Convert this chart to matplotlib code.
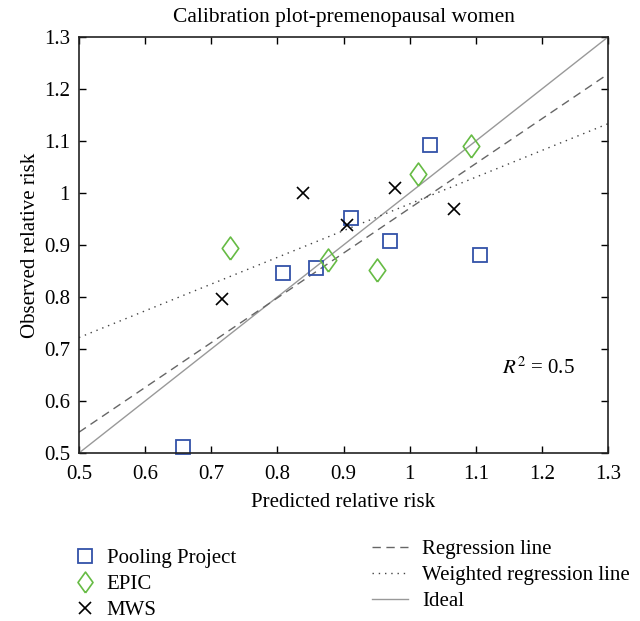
import numpy as np
import matplotlib
matplotlib.use("Agg")
import matplotlib.pyplot as plt
from matplotlib.lines import Line2D

plt.rcParams['font.family'] = ['Liberation Serif', 'DejaVu Serif']
plt.rcParams['mathtext.fontset'] = 'stix'

# Pooling Project (squares)
pooling_x = [0.658, 0.808, 0.858, 0.912, 0.970, 1.031, 1.107]
pooling_y = [0.511, 0.846, 0.855, 0.951, 0.908, 1.093, 0.881]
# EPIC (diamonds)
epic_x = [0.728, 0.877, 0.951, 1.012, 1.093]
epic_y = [0.894, 0.872, 0.851, 1.036, 1.091]
# MWS (crosses)
mws_x = [0.717, 0.839, 0.906, 0.978, 1.067]
mws_y = [0.797, 1.000, 0.939, 1.010, 0.969]

# fitted lines: value at x=0.5 and slope
reg_at_05, reg_slope = 0.540, 0.861
wreg_at_05, wreg_slope = 0.722, 0.514
r2_value = 0.5

ticks = [0.5, 0.6, 0.7, 0.8, 0.9, 1.0, 1.1, 1.2, 1.3]
tick_labels = ['0.5', '0.6', '0.7', '0.8', '0.9', '1', '1.1', '1.2', '1.3']

blue = '#3352a8'
green = '#66bb44'
# tall diamond like the original
diamond = [(0, -1), (0.72, 0), (0, 1), (-0.72, 0), (0, -1)]

fs = 15

fig = plt.figure(figsize=(6.4, 6.21), dpi=100)
ax = fig.add_axes([79 / 640, 1 - 453 / 621, 529 / 640, 416 / 621])

xs = np.array([0.5, 1.3])
ax.plot(xs, xs, color='#999999', lw=1.0)
ax.plot(xs, reg_at_05 + reg_slope * (xs - 0.5), color='#666666', lw=1.0,
        linestyle=(0, (6, 4)))
ax.plot(xs, wreg_at_05 + wreg_slope * (xs - 0.5), color='#444444', lw=1.0,
        linestyle=(0, (1, 3.5)))

ax.plot(pooling_x, pooling_y, 's', ms=9.8, mfc='none', mec=blue, mew=1.3, clip_on=False)
ax.plot(epic_x, epic_y, marker=diamond, ls='none', ms=16.5, mfc='none', mec=green,
        mew=1.2, clip_on=False)
ax.plot(mws_x, mws_y, 'x', ms=8.5, color='black', mew=1.2, clip_on=False)

ax.set_xlim(0.5, 1.3)
ax.set_ylim(0.5, 1.3)
ax.set_xticks(ticks)
ax.set_xticklabels(tick_labels)
ax.set_yticks(ticks)
ax.set_yticklabels(tick_labels)
ax.tick_params(direction='in', top=True, right=True, length=5, width=1.0,
               labelsize=fs)
ax.tick_params(axis='x', pad=8.5)
ax.tick_params(axis='y', pad=6.5)
for s in ax.spines.values():
    s.set_linewidth(1.2)
    s.set_color('#222222')

ax.set_title('Calibration plot-premenopausal women', fontsize=15.5, pad=11)
ax.set_xlabel('Predicted relative risk', fontsize=fs, labelpad=6.5)
ax.set_ylabel('Observed relative risk', fontsize=fs, labelpad=3)

ax.text(1.195, 0.663, r'$R^2$ = %g' % r2_value, fontsize=fs, ha='center', va='center')

h1 = [Line2D([], [], marker='s', ls='none', ms=9.5, mfc='none', mec=blue, mew=1.3),
      Line2D([], [], marker=diamond, ls='none', ms=15, mfc='none', mec=green, mew=1.2),
      Line2D([], [], marker='x', ls='none', ms=8, color='black', mew=1.2)]
leg1 = fig.legend(h1, ['Pooling Project', 'EPIC', 'MWS'], loc='upper left',
                  bbox_to_anchor=(66 / 640, 1 - 540 / 621), frameon=False,
                  fontsize=fs, labelspacing=0.32, handlelength=1.0,
                  handletextpad=0.56, borderaxespad=0)

h2 = [Line2D([], [], color='#666666', lw=1.0, ls=(0, (6, 4))),
      Line2D([], [], color='#444444', lw=1.0, ls=(0, (1, 3.5))),
      Line2D([], [], color='#999999', lw=1.0)]
leg2 = fig.legend(h2, ['Regression line', 'Weighted regression line', 'Ideal'],
                  loc='upper left', bbox_to_anchor=(364 / 640, 1 - 531 / 621),
                  frameon=False, fontsize=fs, labelspacing=0.32,
                  handlelength=1.73, handletextpad=0.67, borderaxespad=0)

fig.savefig('out.png', dpi=100)
